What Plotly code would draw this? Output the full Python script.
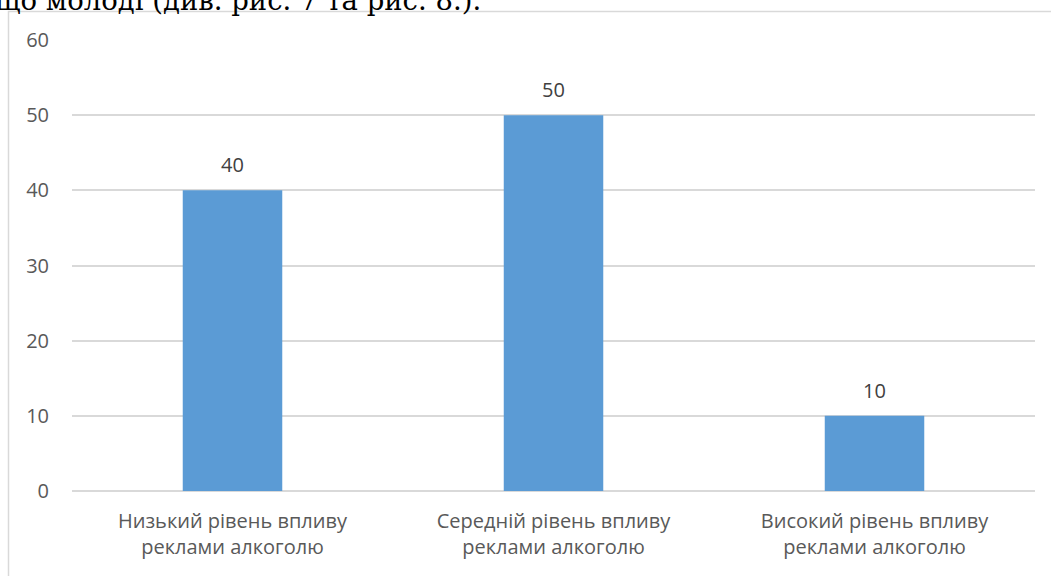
import plotly.graph_objects as go

categories = ["Низький рівень впливу<br>реклами алкоголю",
              "Середній рівень впливу<br>реклами алкоголю",
              "Високий рівень впливу<br>реклами алкоголю"]
values = [40, 50, 10]
y_ticks = [0, 10, 20, 30, 40, 50, 60]

fig = go.Figure()
fig.add_trace(go.Bar(
    x=categories, y=values,
    marker=dict(color="#5b9bd5", line=dict(width=0)),
    hoverinfo="skip",
))

for c, v in zip(categories, values):
    fig.add_annotation(x=c, y=v, text=str(v), showarrow=False, xref="x", yref="y",
                       yanchor="bottom", yshift=10,
                       font=dict(family="Open Sans", size=20, color="#404040"))

W, H = 1051, 576
l, r, t, b = 72, 16, 40, 85
pw = W - l - r
ph = H - t - b

def px_x(p):
    return (p - l) / pw

def px_y(p):
    return (H - b - p) / ph

fig.add_shape(type="rect", xref="paper", yref="paper",
              x0=px_x(8.5), x1=px_x(1060), y0=px_y(590), y1=px_y(11.5),
              line=dict(color="#d9d9d9", width=1.5), fillcolor="rgba(0,0,0,0)", layer="below")

fig.add_annotation(text="що молоді (див. рис. 7 та рис. 8.).", xref="paper", yref="paper",
                   x=px_x(-7), y=px_y(0), xanchor="left", yanchor="middle", showarrow=False,
                   font=dict(family="DejaVu Serif", size=27.5, color="#000000"))

fig.update_layout(
    width=W, height=H,
    margin=dict(l=l, r=r, t=t, b=b),
    paper_bgcolor="white", plot_bgcolor="white",
    bargap=0.69,
    showlegend=False,
    font=dict(family="Open Sans", size=20, color="#595959"),
    xaxis=dict(showgrid=False, showline=False, ticks="", ticklabelstandoff=16,
               tickfont=dict(size=20, color="#595959")),
    yaxis=dict(range=[0, 60], tickvals=y_ticks, showgrid=True, gridcolor="#d9d9d9", gridwidth=1.5,
               zeroline=True, zerolinecolor="#d9d9d9", zerolinewidth=1.5, showline=False,
               ticks="", ticklabelstandoff=22, tickfont=dict(size=20, color="#595959")),
)

fig.write_html("out.html", config={"displayModeBar": False},
               post_script="document.body.style.margin='0';document.body.style.overflow='hidden';")
